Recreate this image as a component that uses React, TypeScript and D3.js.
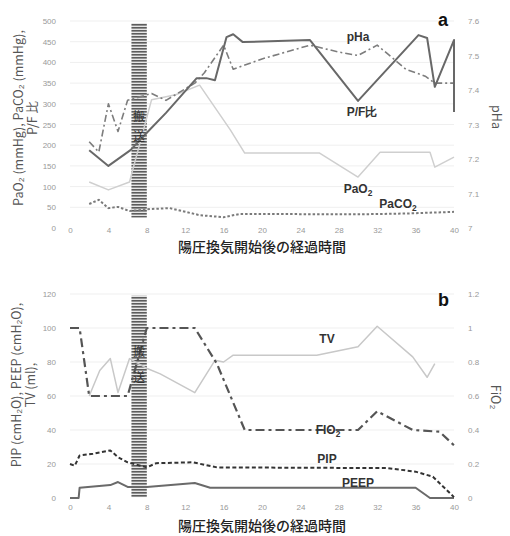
import { useEffect, useRef } from "react";
import * as d3 from "d3";

// panel a
const pfRatio: [number, number][] = [
  [2, 188], [4, 150], [6.3, 188], [8, 230], [10, 278], [13.2, 362], [14.2, 362],
  [15.1, 357], [16.3, 461], [17, 468], [18, 449], [25, 454], [30, 307],
  [36.3, 466], [37.2, 459], [38, 341], [40, 454], [40, 280],
];
const pha: [number, number][] = [
  [2, 7.25], [3, 7.22], [4, 7.36], [5, 7.28], [6, 7.37], [8.5, 7.39], [10, 7.37],
  [13, 7.42], [14, 7.45], [16, 7.53], [17, 7.46], [20, 7.49], [25, 7.53], [28, 7.51],
  [30, 7.5], [32, 7.53], [35, 7.46], [37, 7.44], [38, 7.42], [40, 7.42],
];
const pao2: [number, number][] = [
  [2, 111], [4, 92], [6.2, 111], [8.5, 310], [11, 322], [13.5, 345], [16.7, 237],
  [18.2, 181], [26, 181], [30, 123], [32.3, 183], [37.5, 183], [38, 147], [40, 171],
];
const paco2: [number, number][] = [
  [2, 58], [3, 68], [4, 48], [5, 51], [6.2, 41], [8.5, 46], [10.4, 48], [13.5, 31],
  [16, 26], [17.7, 34], [30, 33], [35, 35], [40, 39],
];

// panel b
const fio2: [number, number][] = [
  [0, 1.0], [1, 1.0], [2, 0.6], [6, 0.6], [8, 1.0], [13, 1.0], [15.3, 0.79],
  [18.2, 0.4], [30, 0.4], [32, 0.51], [35.7, 0.4], [38.5, 0.39], [40, 0.31],
];
const tv: [number, number][] = [
  [2, 60], [3.1, 75], [4.2, 82], [5, 62], [6.2, 82], [8.1, 76], [9.4, 73], [13, 62],
  [15.1, 81], [16, 80], [17, 84], [25.7, 84], [30, 89], [32, 101], [35.7, 83],
  [37.2, 71], [38, 79],
];
const pip: [number, number][] = [
  [0, 20], [0.5, 19], [1, 25], [2.4, 26], [4.2, 28], [5, 24], [6, 21], [8, 18],
  [9, 20.5], [12.8, 21], [15.3, 18], [33, 17.6], [36, 15.5], [37.8, 12.5], [40, 0.5],
];
const peep: [number, number][] = [
  [0, 0], [0.9, 0], [1, 6], [4.2, 7.6], [5, 9.4], [6, 6.5], [8, 6.5], [13, 8.8],
  [14.6, 6], [36, 6], [37.5, 0], [39, 0], [40, 0],
];

const xTicks = [0, 4, 8, 12, 16, 20, 24, 28, 32, 36, 40];
const leftTicksA = [0, 50, 100, 150, 200, 250, 300, 350, 400, 450, 500];
const rightTicksA = [7, 7.1, 7.2, 7.3, 7.4, 7.5, 7.6];
const leftTicksB = [0, 20, 40, 60, 80, 100, 120];
const rightTicksB = [0, 0.2, 0.4, 0.6, 0.8, 1, 1.2];
const shade = [6.4, 8.0];
const xTitle = "陽圧換気開始後の経過時間";

export default function App() {
  const ref = useRef<SVGSVGElement>(null);

  useEffect(() => {
    const svg = d3.select(ref.current);
    svg.selectAll("*").remove();
    const font = "'Liberation Sans', Arial, sans-serif";
    const jp = "'Noto Sans CJK JP', sans-serif";

    const defs = svg.append("defs");
    const pat = defs
      .append("pattern")
      .attr("id", "stripes")
      .attr("width", 6)
      .attr("height", 3)
      .attr("patternUnits", "userSpaceOnUse");
    pat.append("rect").attr("width", 6).attr("height", 3).attr("fill", "#e6e6e6");
    pat.append("rect").attr("width", 6).attr("height", 1.6).attr("fill", "#5c5c5c");

    const x = d3.scaleLinear().domain([0, 40]).range([70, 454]);

    const panel = (opts: {
      yL: d3.ScaleLinear<number, number>;
      yR: d3.ScaleLinear<number, number>;
      leftTicks: number[];
      rightTicks: number[];
      rightFmt: (v: number) => string;
      shadeY: [number, number];
      tickOffset: number;
    }) => {
      const g = svg.append("g");
      const { yL, yR } = opts;
      // grid
      g.selectAll(".grid")
        .data(opts.leftTicks.slice(1))
        .join("line")
        .attr("x1", x(0))
        .attr("x2", x(40))
        .attr("y1", (d) => yL(d))
        .attr("y2", (d) => yL(d))
        .attr("stroke", "#efefef")
        .attr("stroke-width", 1);

      const left = g.append("g").attr("transform", `translate(${x(0) - 12},0)`)
        .call(d3.axisLeft(yL).tickValues(opts.leftTicks).tickSize(0).tickPadding(2));
      const right = g.append("g").attr("transform", `translate(${x(40) + 12},0)`)
        .call(d3.axisRight(yR).tickValues(opts.rightTicks).tickSize(0).tickPadding(2)
          .tickFormat((d) => opts.rightFmt(d as number)));
      const bottom = g.append("g").attr("transform", `translate(0,${yL(0) + opts.tickOffset})`)
        .call(d3.axisBottom(x).tickValues(xTicks).tickSize(0).tickPadding(0));
      [left, right, bottom].forEach((a) => {
        a.select(".domain").remove();
        a.selectAll("text").attr("fill", "#999").style("font-size", "8px").style("font-family", font);
      });

      // shaded period
      g.append("rect")
        .attr("x", x(shade[0]))
        .attr("width", x(shade[1]) - x(shade[0]))
        .attr("y", yL(opts.shadeY[1]))
        .attr("height", yL(opts.shadeY[0]) - yL(opts.shadeY[1]))
        .attr("fill", "url(#stripes)");
      const mid = (x(shade[0]) + x(shade[1])) / 2;
      return { g, mid };
    };

    const drawLine = (
      g: d3.Selection<SVGGElement, unknown, null, undefined>,
      data: [number, number][],
      y: d3.ScaleLinear<number, number>,
      color: string,
      width: number,
      dash: string | null
    ) => {
      const line = d3.line<[number, number]>().x((d) => x(d[0])).y((d) => y(d[1]));
      g.append("path")
        .datum(data)
        .attr("fill", "none")
        .attr("stroke", color)
        .attr("stroke-width", width)
        .attr("stroke-dasharray", dash)
        .attr("stroke-linejoin", "round")
        .attr("d", line);
    };

    const label = (text: string, px: number, py: number, size = 12, sub?: string) => {
      const t = svg.append("text")
        .attr("x", px)
        .attr("y", py)
        .attr("text-anchor", "middle")
        .style("font-family", font)
        .style("font-weight", "bold")
        .style("font-size", size + "px")
        .attr("fill", "#333")
        .text(text);
      if (sub) t.append("tspan").attr("dy", 3).style("font-size", size * 0.7 + "px").text(sub);
      return t;
    };

    // ---------- panel a ----------
    const yA = d3.scaleLinear().domain([0, 500]).range([228, 21]);
    const yPh = d3.scaleLinear().domain([7, 7.6]).range([228, 21]);
    const a = panel({
      yL: yA, yR: yPh, leftTicks: leftTicksA, rightTicks: rightTicksA,
      rightFmt: (v) => (v === 7 ? "7" : d3.format(".1f")(v)),
      shadeY: [25, 495], tickOffset: -1,
    });
    drawLine(a.g, pao2, yA, "#cfcfcf", 1.5, null);
    drawLine(a.g, paco2, yA, "#7a7a7a", 2, "2.5,2");
    drawLine(a.g, pha, yPh, "#7d7d7d", 1.6, "7,3,2,3");
    drawLine(a.g, pfRatio, yA, "#686868", 2, null);
    ["搬", "送"].forEach((c, i) => {
      svg.append("text").attr("x", a.mid).attr("y", 121 + i * 20).attr("text-anchor", "middle")
        .style("font-family", jp).style("font-size", "12px").attr("fill", "#333").text(c);
    });

    // ---------- panel b ----------
    const yB = d3.scaleLinear().domain([0, 120]).range([498, 294]);
    const yF = d3.scaleLinear().domain([0, 1.2]).range([498, 294]);
    const b = panel({
      yL: yB, yR: yF, leftTicks: leftTicksB, rightTicks: rightTicksB,
      rightFmt: (v) => (v === 0 || v === 1 ? String(v) : d3.format(".1f")(v)),
      shadeY: [0.5, 119], tickOffset: 6,
    });
    drawLine(b.g, tv, yB, "#c8c8c8", 1.5, null);
    drawLine(b.g, peep, yB, "#6a6a6a", 2, null);
    drawLine(b.g, pip, yB, "#333", 2, "4,2.5");
    drawLine(b.g, fio2, yF, "#555", 2.2, "9,4,3,4");
    ["搬", "送"].forEach((c, i) => {
      svg.append("text").attr("x", b.mid).attr("y", 356 + i * 26).attr("text-anchor", "middle")
        .style("font-family", jp).style("font-size", "12px").attr("fill", "#333").text(c);
    });

    // x titles
    [252, 531].forEach((ty) => {
      svg.append("text").attr("x", 262).attr("y", ty).attr("text-anchor", "middle")
        .style("font-family", jp).style("font-size", "14px").style("font-weight", "500")
        .attr("fill", "#222").text(xTitle);
    });

    // y titles
    const rot = (lines: { t: string; x: number }[], cy: number, angle: number) => {
      lines.forEach((l) => {
        svg.append("text")
          .attr("transform", `translate(${l.x},${cy}) rotate(${angle})`)
          .attr("text-anchor", "middle")
          .style("font-family", jp)
          .style("font-size", "12.5px")
          .attr("fill", "#555")
          .text(l.t);
      });
    };
    rot([{ t: "PaO₂ (mmHg), PaCO₂ (mmHg),", x: 23 }, { t: "P/F 比", x: 37 }], 118, -90);
    rot([{ t: "pHa", x: 492 }], 117, 90);
    rot([{ t: "PIP (cmH₂O), PEEP (cmH₂O),", x: 21 }, { t: "TV (ml),", x: 35 }], 385, -90);
    rot([{ t: "FiO₂", x: 491 }], 397, 90);

    // panel letters
    svg.append("text").attr("x", 438).attr("y", 26).style("font-family", font)
      .style("font-weight", "bold").style("font-size", "18px").attr("fill", "#111").text("a");
    svg.append("text").attr("x", 438).attr("y", 306).style("font-family", font)
      .style("font-weight", "bold").style("font-size", "18px").attr("fill", "#111").text("b");

    // series labels
    label("pHa", 358, 41);
    label("P/F比", 362, 116);
    label("PaO", 358, 193, 12, "2");
    label("PaCO", 398, 208, 12, "2");
    label("TV", 327, 343);
    label("FIO", 328, 434, 12, "2");
    label("PIP", 327, 463);
    label("PEEP", 358, 487);
  }, []);

  return (
    <svg
      ref={ref}
      width={510}
      height={536}
      style={{ position: "absolute", left: 0, top: 0, background: "#fff" }}
    />
  );
}
